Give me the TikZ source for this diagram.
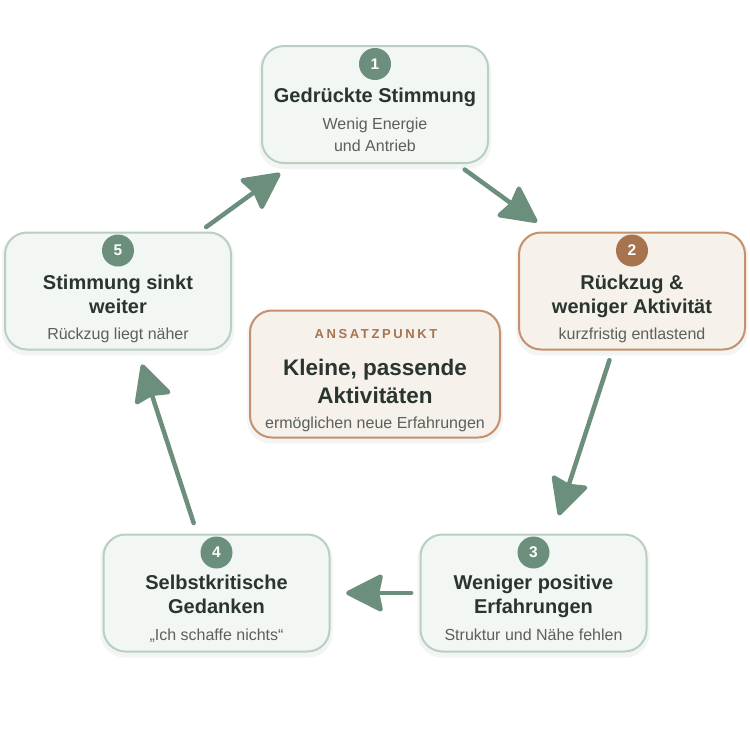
\documentclass[tikz,border=0pt]{standalone}
\usepackage{fontspec}
\setmainfont{Liberation Sans}
\usetikzlibrary{arrows.meta,calc}
\definecolor{gfill}{HTML}{F3F7F4}
\definecolor{gline}{HTML}{B9CFC2}
\definecolor{gdark}{HTML}{6C8F7D}
\definecolor{bfill}{HTML}{F6F1EB}
\definecolor{bline}{HTML}{C4916C}
\definecolor{bdark}{HTML}{A8734F}
\definecolor{ttext}{HTML}{2B352F}
\definecolor{stext}{HTML}{5B605C}
\definecolor{shcol}{HTML}{E9ECEA}
\tikzset{
  box/.style={draw=gline, fill=gfill, line width=2pt, rounded corners=22pt,
    minimum width=226pt, minimum height=117pt, inner sep=0pt},
  bbox/.style={box, draw=bline, fill=bfill},
  shadowbox/.style={fill=shcol, opacity=0.5, rounded corners=24pt, inner sep=0pt,
    minimum width=232pt, minimum height=123pt},
  num/.style={circle, fill=gdark, minimum size=32pt, inner sep=0pt, text=white, font=\bfseries\fontsize{15.5}{15.5}\selectfont},
  bnum/.style={num, fill=bdark},
  ttl/.style={anchor=base, text=ttext, font=\bfseries\fontsize{20}{20}\selectfont, inner sep=0pt},
  sub/.style={anchor=base, text=stext, font=\fontsize{16}{16}\selectfont, inner sep=0pt},
  arr/.style={draw=gdark, line width=4.5pt, line cap=round,
    -{Stealth[length=40pt, width=40pt, inset=4pt, round]}},
}
\begin{document}
\begin{tikzpicture}[x=1pt,y=-1pt]
\path[fill=white] (0,0) rectangle (750,750);
\useasboundingbox (0,0) rectangle (750,750);

% soft shadows
\node[shadowbox] (h1) at (375,107.5) {};
\node[shadowbox] (h2) at (632,294) {};
\node[shadowbox] (h3) at (533.5,596) {};
\node[shadowbox] (h4) at (216.5,596) {};
\node[shadowbox] (h5) at (118,294) {};
\node[shadowbox, minimum width=256pt, minimum height=133pt] (hc) at (375,377) {};

% boxes
\node[box]  (b1) at (375,104.5) {};
\node[bbox] (b2) at (632,291) {};
\node[box]  (b3) at (533.5,593) {};
\node[box]  (b4) at (216.5,593) {};
\node[box]  (b5) at (118,291) {};
\node[bbox, minimum width=250pt, minimum height=127pt] (bc) at (375,374) {};

% box 1
\node[num] (n1) at (375,64) {1};
\node[ttl] (t1) at (375,102) {Gedrückte Stimmung};
\node[sub] (s1a) at (375,129) {Wenig Energie};
\node[sub] (s1b) at (375,151) {und Antrieb};

% box 2
\node[bnum] (n2) at (632,250.5) {2};
\node[ttl] (t2a) at (632,289) {Rückzug \&};
\node[ttl] (t2b) at (632,313) {weniger Aktivität};
\node[sub] (s2) at (632,339) {kurzfristig entlastend};

% box 3
\node[num] (n3) at (533.5,552.5) {3};
\node[ttl] (t3a) at (533.5,589) {Weniger positive};
\node[ttl] (t3b) at (533.5,613) {Erfahrungen};
\node[sub] (s3) at (533.5,640) {Struktur und Nähe fehlen};

% box 4
\node[num] (n4) at (216.5,552.5) {4};
\node[ttl] (t4a) at (216.5,589) {Selbstkritische};
\node[ttl] (t4b) at (216.5,613) {Gedanken};
\node[sub] (s4) at (216.5,640) {„Ich schaffe nichts“};

% box 5
\node[num] (n5) at (118,250.5) {5};
\node[ttl] (t5a) at (118,289) {Stimmung sinkt};
\node[ttl] (t5b) at (118,313) {weiter};
\node[sub] (s5) at (118,339) {Rückzug liegt näher};

% center box
\node[anchor=base, inner sep=0pt, text=bdark, font=\bfseries\fontsize{13}{13}\selectfont\addfontfeatures{LetterSpace=20}] (ca) at (376,338) {ANSATZPUNKT};
\node[anchor=base, inner sep=0pt, text=ttext, font=\bfseries\fontsize{22.5}{22.5}\selectfont] (cb) at (375,375) {Kleine, passende};
\node[anchor=base, inner sep=0pt, text=ttext, font=\bfseries\fontsize{22.5}{22.5}\selectfont] (cc) at (375,403) {Aktivitäten};
\node[sub] (cd) at (375,428) {ermöglichen neue Erfahrungen};

% arrows
\draw[arr] ($(b1)!0.349!(b2)$) -- ($(b1)!0.631!(b2)$);
\draw[arr] ($(b2)!0.229!(b3)$) -- ($(b2)!0.743!(b3)$);
\draw[arr] ($(b3)!0.386!(b4)$) -- ($(b3)!0.591!(b4)$);
\draw[arr] ($(b4)!0.232!(b5)$) -- ($(b4)!0.757!(b5)$);
\draw[arr] ($(b5)!0.343!(b1)$) -- ($(b5)!0.631!(b1)$);
\end{tikzpicture}
\end{document}
